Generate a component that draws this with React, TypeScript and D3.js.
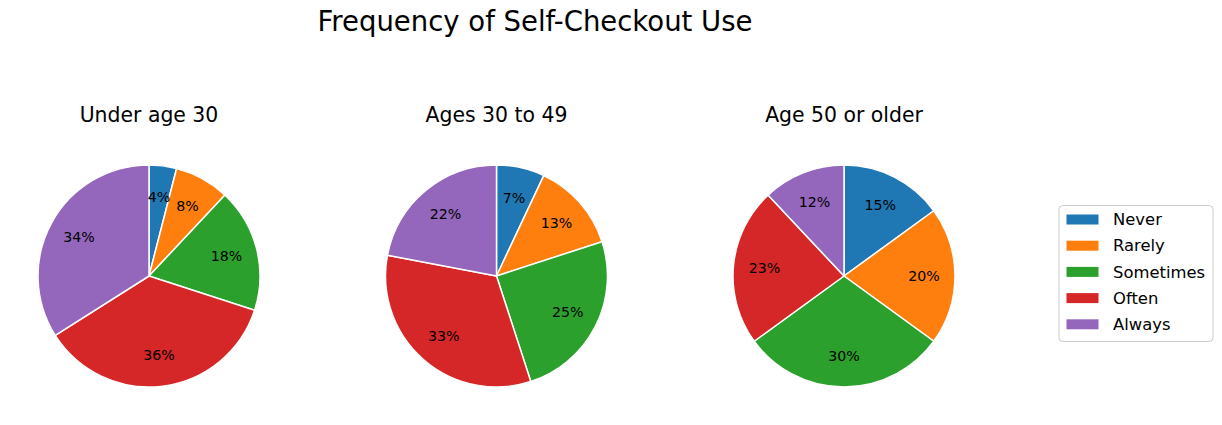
import * as React from "react";
import * as d3 from "d3";

const CATEGORIES = ["Never", "Rarely", "Sometimes", "Often", "Always"];
const GROUPS = ["Under age 30", "Ages 30 to 49", "Age 50 or older"];
const UNDER_30 = [4, 8, 18, 36, 34];
const AGES_30_49 = [7, 13, 25, 33, 22];
const AGES_50_PLUS = [15, 20, 30, 23, 12];
const SERIES = [UNDER_30, AGES_30_49, AGES_50_PLUS];
const COLORS = ["#1f77b4", "#ff7f0e", "#2ca02c", "#d62728", "#9467bd"];

const W = 1222;
const H = 425;
const FONT = "DejaVu Sans, Verdana, sans-serif";

export default function App() {
  const ref = React.useRef<SVGSVGElement | null>(null);

  React.useEffect(() => {
    document.body.style.margin = "0";
    if (!ref.current) return;
    const svg = d3.select(ref.current);
    svg.selectAll("*").remove();

    const radius = 111;
    const cy = 276;
    // pie centers across the figure
    const cx = d3.scalePoint<string>().domain(GROUPS).range([149, 844]);

    svg
      .append("text")
      .attr("x", 535)
      .attr("y", 31)
      .attr("text-anchor", "middle")
      .attr("font-family", FONT)
      .attr("font-size", 27.5)
      .attr("fill", "#000")
      .text("Frequency of Self-Checkout Use");

    const pie = d3.pie<number>().sort(null).value((d) => d);
    const arc = d3.arc<d3.PieArcDatum<number>>().innerRadius(0).outerRadius(radius);
    const labelArc = d3
      .arc<d3.PieArcDatum<number>>()
      .innerRadius(radius * 0.72)
      .outerRadius(radius * 0.72);

    SERIES.forEach((values, gi) => {
      const name = GROUPS[gi];
      const g = svg.append("g").attr("transform", `translate(${cx(name)},${cy})`);

      svg
        .append("text")
        .attr("x", cx(name)!)
        .attr("y", 122)
        .attr("text-anchor", "middle")
        .attr("font-family", FONT)
        .attr("font-size", 20.4)
        .attr("fill", "#000")
        .text(name);

      const arcs = pie(values);
      g.selectAll("path")
        .data(arcs)
        .join("path")
        .attr("d", arc)
        .attr("fill", (_, i) => COLORS[i])
        .attr("stroke", "#fff")
        .attr("stroke-width", 1.5)
        .attr("stroke-linejoin", "round");

      g.selectAll("text")
        .data(arcs)
        .join("text")
        .attr("transform", (d) => `translate(${labelArc.centroid(d)})`)
        .attr("text-anchor", "middle")
        .attr("dy", "0.35em")
        .attr("font-family", FONT)
        .attr("font-size", 14.2)
        .attr("fill", "#000")
        .text((d) => `${d.data}%`);
    });

    // legend
    const lg = svg.append("g").attr("transform", "translate(1059,205.5)");
    lg.append("rect")
      .attr("width", 154)
      .attr("height", 136)
      .attr("rx", 4)
      .attr("fill", "#fff")
      .attr("fill-opacity", 0.8)
      .attr("stroke", "#cccccc");
    const row = d3.scaleLinear().domain([0, 1]).range([14, 40.2]);
    CATEGORIES.forEach((c, i) => {
      lg.append("rect")
        .attr("x", 7.5)
        .attr("y", row(i) - 5)
        .attr("width", 32)
        .attr("height", 10)
        .attr("fill", COLORS[i]);
      lg.append("text")
        .attr("x", 54)
        .attr("y", row(i))
        .attr("dy", "0.35em")
        .attr("font-family", FONT)
        .attr("font-size", 16.4)
        .attr("fill", "#000")
        .text(c);
    });
  }, []);

  return <svg ref={ref} width={W} height={H} style={{ display: "block", background: "#fff" }} />;
}
